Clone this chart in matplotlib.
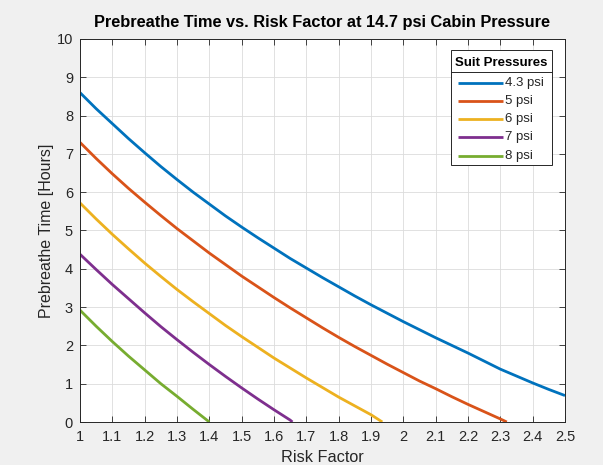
import matplotlib.pyplot as plt
from matplotlib.lines import Line2D
from matplotlib.patches import Rectangle

plt.rcParams['font.family'] = ['Liberation Sans', 'DejaVu Sans']

# risk factor and prebreathe time [hours] for each suit pressure
risk_43 = [1.0, 1.05, 1.1, 1.15, 1.2, 1.25, 1.3, 1.35, 1.4, 1.45, 1.5, 1.55, 1.6, 1.65,
           1.7, 1.75, 1.8, 1.85, 1.9, 1.95, 2.0, 2.05, 2.1, 2.15, 2.2, 2.25, 2.3, 2.35,
           2.4, 2.45, 2.5]
time_43 = [8.60, 8.18, 7.79, 7.40, 7.03, 6.67, 6.33, 6.00, 5.69, 5.38, 5.09, 4.81, 4.54,
           4.27, 4.02, 3.77, 3.53, 3.29, 3.06, 2.84, 2.62, 2.41, 2.20, 2.00, 1.80, 1.59,
           1.38, 1.20, 1.02, 0.85, 0.69]

risk_5 = [1.0, 1.05, 1.1, 1.15, 1.2, 1.25, 1.3, 1.35, 1.4, 1.45, 1.5, 1.55, 1.6, 1.65,
          1.7, 1.75, 1.8, 1.85, 1.9, 1.95, 2.0, 2.05, 2.1, 2.15, 2.2, 2.25, 2.3, 2.32]
time_5 = [7.30, 6.88, 6.48, 6.10, 5.74, 5.39, 5.05, 4.73, 4.41, 4.11, 3.81, 3.53, 3.25,
          2.98, 2.72, 2.46, 2.21, 1.97, 1.74, 1.51, 1.29, 1.07, 0.87, 0.66, 0.46, 0.27,
          0.08, 0.0]

risk_6 = [1.0, 1.05, 1.1, 1.15, 1.2, 1.25, 1.3, 1.35, 1.4, 1.45, 1.5, 1.55, 1.6, 1.65,
          1.7, 1.75, 1.8, 1.85, 1.9, 1.935]
time_6 = [5.72, 5.30, 4.90, 4.52, 4.15, 3.80, 3.46, 3.14, 2.83, 2.52, 2.23, 1.95, 1.67,
          1.41, 1.15, 0.90, 0.65, 0.42, 0.19, 0.0]

risk_7 = [1.0, 1.05, 1.1, 1.15, 1.2, 1.25, 1.3, 1.35, 1.4, 1.45, 1.5, 1.55, 1.6, 1.65,
          1.657]
time_7 = [4.38, 3.98, 3.59, 3.22, 2.85, 2.49, 2.15, 1.82, 1.50, 1.19, 0.89, 0.60, 0.32,
          0.05, 0.0]

risk_8 = [1.0, 1.05, 1.1, 1.15, 1.2, 1.25, 1.3, 1.35, 1.4]
time_8 = [2.92, 2.50, 2.10, 1.72, 1.36, 1.00, 0.67, 0.33, 0.0]

labels = ["4.3 psi", "5 psi", "6 psi", "7 psi", "8 psi"]
colors = ["#0072BD", "#D95319", "#EDB120", "#7E2F8E", "#77AC30"]

x_ticks = [1.0, 1.1, 1.2, 1.3, 1.4, 1.5, 1.6, 1.7, 1.8, 1.9, 2.0, 2.1, 2.2, 2.3, 2.4, 2.5]
x_tick_labels = ["1", "1.1", "1.2", "1.3", "1.4", "1.5", "1.6", "1.7", "1.8", "1.9",
                 "2", "2.1", "2.2", "2.3", "2.4", "2.5"]
y_ticks = list(range(0, 11))

series = [(risk_43, time_43), (risk_5, time_5), (risk_6, time_6),
          (risk_7, time_7), (risk_8, time_8)]

W, H = 603, 465
fig = plt.figure(figsize=(W / 100, H / 100), dpi=100, facecolor="#f0f0f0")
ax = fig.add_axes([80 / W, 43 / H, 485 / W, 383 / H])

for (rx, ty), col in zip(series, colors):
    ax.plot(rx, ty, color=col, lw=2.0, solid_capstyle="butt")

ax.set_xlim(1, 2.5)
ax.set_ylim(0, 10)
ax.set_xticks(x_ticks)
ax.set_xticklabels(x_tick_labels)
ax.set_yticks(y_ticks)

axis_col = "#262626"
ax.tick_params(direction="in", length=4, width=0.6, colors=axis_col,
               labelsize=10.5, top=True, right=True)
ax.tick_params(axis="x", pad=6)
ax.tick_params(axis="y", pad=5)
for sp in ax.spines.values():
    sp.set_color(axis_col)
    sp.set_linewidth(0.7)
ax.grid(True, color="#dcdcdc", lw=0.6)
ax.set_axisbelow(True)

ax.set_title("Prebreathe Time vs. Risk Factor at 14.7 psi Cabin Pressure",
             fontsize=11.8, fontweight="bold", color="black", pad=9)
ax.set_xlabel("Risk Factor", fontsize=11.7, color=axis_col, labelpad=4)
ax.set_ylabel("Prebreathe Time [Hours]", fontsize=11.5, color=axis_col, labelpad=2)


def px(x, y):
    # pixel position (from top-left) to figure fraction
    return x / W, 1 - y / H


# legend box with title and separator
bx0, by0 = px(451, 165)
bx1, by1 = px(552, 50)
fig.add_artist(Rectangle((bx0, by0), bx1 - bx0, by1 - by0, transform=fig.transFigure,
                         facecolor="white", edgecolor=axis_col, lw=0.7, zorder=5))
tx, ty = px(501.5, 62.5)
fig.text(tx, ty, "Suit Pressures", ha="center", va="center", fontsize=9.5,
         fontweight="bold", color="black", zorder=6)
sy = px(0, 72.5)[1]
fig.add_artist(Line2D([bx0, bx1], [sy, sy], transform=fig.transFigure,
                      color=axis_col, lw=0.7, zorder=6))
entry_y = [82.7, 101, 119.2, 137.4, 155.6]
for lab, col, ey in zip(labels, colors, entry_y):
    lx0, ly = px(458, ey)
    lx1, _ = px(503, ey)
    fig.add_artist(Line2D([lx0, lx1], [ly, ly], transform=fig.transFigure,
                          color=col, lw=2.0, zorder=6, solid_capstyle="butt"))
    fig.text(px(505, ey)[0], ly, lab, ha="left", va="center", fontsize=9.5,
             color=axis_col, zorder=6)

fig.savefig("out.png", dpi=100, facecolor=fig.get_facecolor())
